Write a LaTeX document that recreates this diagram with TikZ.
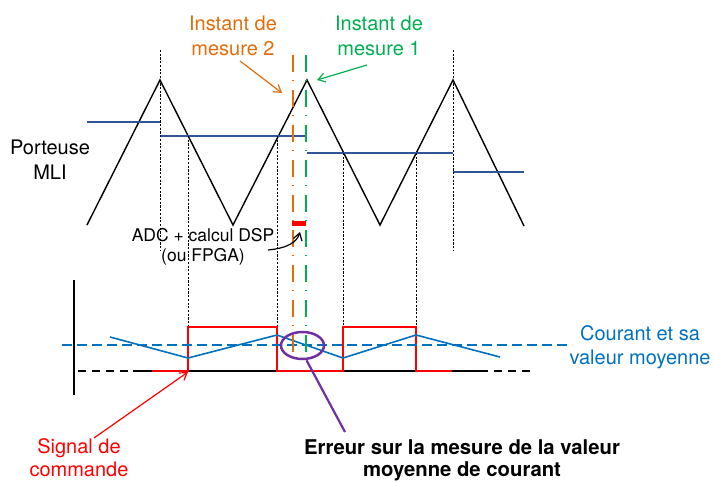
\documentclass[tikz,border=0pt]{standalone}
\usepackage{fontspec}
\setmainfont{TeX Gyre Heros}
\usetikzlibrary{arrows.meta,shapes.geometric}
\definecolor{orgC}{RGB}{228,108,10}
\definecolor{grnC}{RGB}{0,176,80}
\definecolor{lvlC}{RGB}{47,85,151}
\definecolor{curC}{RGB}{0,112,192}
\definecolor{purC}{RGB}{112,48,160}
\begin{document}
\begin{tikzpicture}[x=1pt,y=-1pt,
  carrier/.style={line width=1.4pt, black, line join=miter},
  level/.style={line width=1.4pt, lvlC},
  guide/.style={line width=1pt, black, dash pattern=on 2.2pt off 1.5pt},
  meas/.style={line width=2.8pt, dash pattern=on 17pt off 8pt on 1pt off 9pt},
  lbl/.style={inner sep=0pt, align=center, font=\fontsize{20}{25}\selectfont},
  tip/.style={-{Straight Barb[length=7pt,width=9pt]}, line width=1.2pt}
]
\useasboundingbox (0,0) rectangle (714,482);

% texts
\node[lbl] (porteuse) at (50,160) {Porteuse\\MLI};
\node[lbl, text=orgC] (inst2) at (233,36) {Instant de\\mesure 2};
\node[lbl, text=grnC] (inst1) at (379,36) {Instant de\\mesure 1};
\node[lbl, font=\fontsize{17.5}{20}\selectfont] (adc) at (203,247) {ADC + calcul DSP\\(ou FPGA)};
\node[lbl, text=curC, font=\fontsize{20}{24}\selectfont] (courant) at (640,347) {Courant et sa\\valeur moyenne};
\node[lbl, text=red, font=\fontsize{20}{23}\selectfont] (signal) at (79,458) {Signal de\\commande};
\node[lbl, font=\fontsize{20.3}{22}\selectfont\bfseries] (erreur) at (462,460) {Erreur sur la mesure de la valeur\\moyenne de courant};

% carrier
\draw[carrier] (87,225) -- (160,80) -- (233,225) -- (307,80) -- (380,225) -- (453,80) -- (524,226);
% modulating levels
\draw[level] (87,122) -- (160,122);
\draw[level] (160,136) -- (307,136);
\draw[level] (307,153) -- (453,153);
\draw[level] (453,172) -- (524,172);
% guides
\draw[guide] (160,50) -- (160,250);
\draw[guide] (453,50) -- (453,250);
\draw[guide] (188,136) -- (188,327);
\draw[guide] (277,136) -- (277,327);
\draw[guide] (343,153) -- (343,327);
\draw[guide] (416,153) -- (416,327);

% axis and baseline
\draw[line width=1.4pt] (74,280) -- (74,395);
\draw[line width=1.4pt, dash pattern=on 8pt off 6pt] (78,371) -- (133,371);
\draw[line width=1.4pt] (133,371) -- (480,371);
\draw[line width=1.4pt, dash pattern=on 8pt off 6pt] (480,371) -- (532,371);
% command signal
\draw[red, line width=1.4pt] (152,371) -- (188,371) -- (188,327) -- (277,327) -- (277,371) -- (343,371) -- (343,327) -- (416,327) -- (416,371) -- (452,371);
% current
\draw[curC, line width=1.4pt, dash pattern=on 10pt off 5pt] (62,345) -- (572,345);
\draw[curC, line width=1.6pt] (110,337) -- (188,358) -- (277,335) -- (343,358) -- (416,335) -- (500,357);

% measurement instants
\draw[meas, orgC] (293,55) -- (293,352);
\draw[meas, grnC] (306,55) -- (306,352);
\fill[red] (292,220.5) rectangle (306,226);

% error ellipse
\node[draw=purC, line width=2.5pt, ellipse, minimum width=43pt, minimum height=27pt, inner sep=0pt] (err) at (302.5,345.5) {};

% arrows
\coordinate (a2s) at (240,61);
\coordinate (a2e) at (282,93);
\coordinate (a1s) at (367,65);
\coordinate (a1e) at (317,80);
\coordinate (adcs) at (268,250);
\coordinate (adce) at (300,232);
\coordinate (sigs) at (94,438);
\coordinate (sige) at (188,372);
\coordinate (errs) at (345,432);
\draw[tip, orgC] (a2s) -- (a2e);
\draw[tip, grnC] (a1s) -- (a1e);
\draw[tip, black] (adcs) .. controls (288,248) and (297,242) .. (adce);
\draw[tip, red] (sigs) -- (sige);
\draw[purC, line width=2.2pt] (err.south) ++(4,0) -- (errs);
\end{tikzpicture}
\end{document}
